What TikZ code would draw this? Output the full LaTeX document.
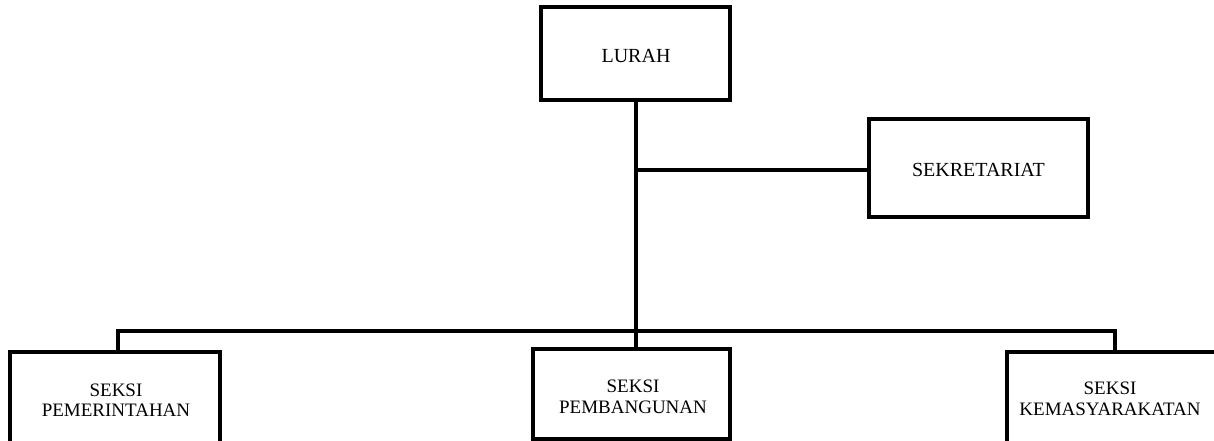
\documentclass[tikz,border=0pt]{standalone}
\usepackage{fontspec}
\setmainfont{Liberation Serif}
\begin{document}
\begin{tikzpicture}[x=1pt,y=-1pt,
  box/.style={draw=black,line width=3.3pt,rectangle,inner sep=0pt},
  lbl/.style={align=center,inner sep=0pt,font=\fontsize{19}{20.5}\selectfont},
  lblbig/.style={align=center,inner sep=0pt,font=\fontsize{20}{22}\selectfont},
  conn/.style={draw=black,line width=3.3pt}]
\useasboundingbox (0,0) rectangle (1214,441);
\node[box,minimum width=189pt,minimum height=93pt] (lurah) at (635.5,53.5) {};
\node[lblbig] (lurahT) at (636,56) {LURAH};
\node[box,minimum width=219pt,minimum height=98pt] (sek) at (978.5,168) {};
\node[lblbig] (sekT) at (978.5,170) {SEKRETARIAT};
\node[box,minimum width=210pt,minimum height=110pt] (pem) at (115,407) {};
\node[lbl] (pemT) at (116,400) {SEKSI\\PEMERINTAHAN};
\node[box,minimum width=197pt,minimum height=90pt] (bang) at (631.5,394) {};
\node[lbl] (bangT) at (633,397) {SEKSI\\PEMBANGUNAN};
\node[box,minimum width=230pt,minimum height=110pt] (kem) at (1122,407) {};
\node[lbl] (kemT) at (1110,399) {SEKSI\\KEMASYARAKATAN};
\coordinate (s1) at (636,170);
\coordinate (jn) at (636,331);
\coordinate (jl) at (118,331);
\coordinate (jr) at (1115,331);
\draw[conn] (lurah.south -| jn) -- (jn);
\draw[conn] (s1) -- (sek.west |- s1);
\draw[conn] (pem.north -| jl) -- (jl) -- (jr) -- (kem.north -| jr);
\draw[conn] (jn) -- (bang.north -| jn);
\end{tikzpicture}
\end{document}
